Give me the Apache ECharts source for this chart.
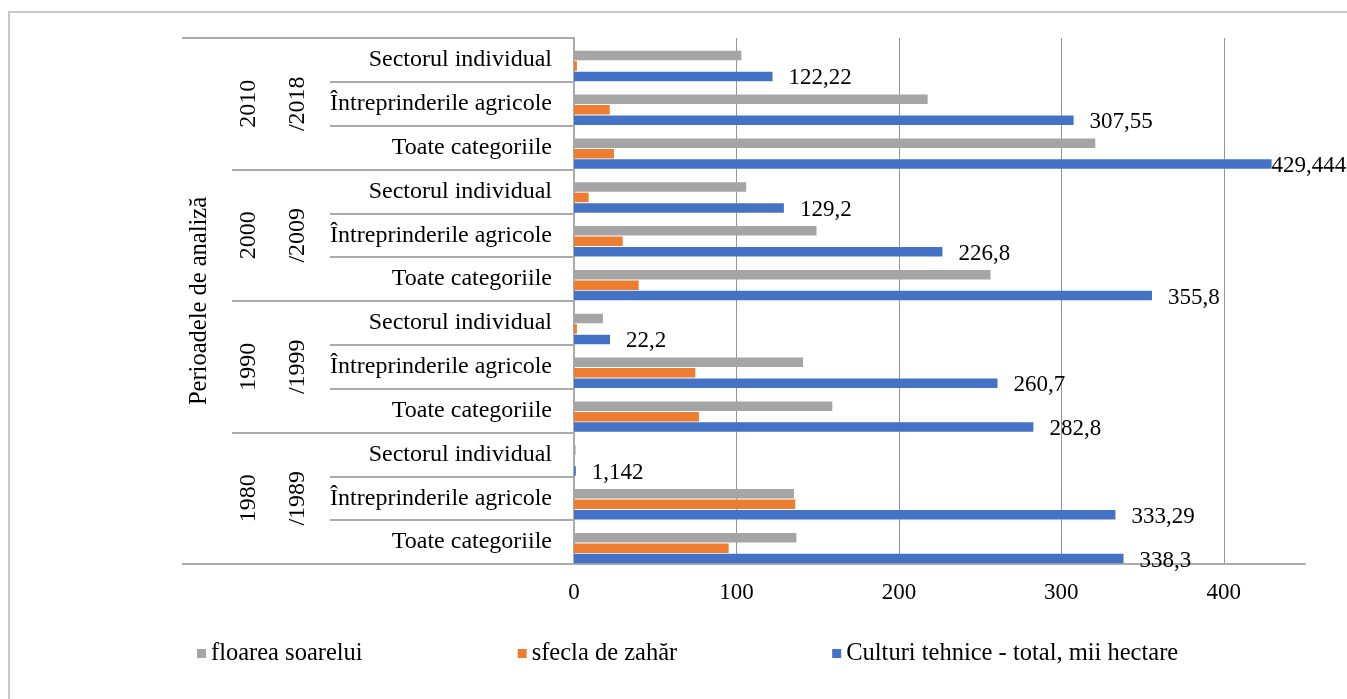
<!DOCTYPE html>
<html>
<head>
<meta charset="utf-8">
<script src="https://cdn.jsdelivr.net/npm/echarts@6/dist/echarts.min.js"></script>
<style>
  html, body { margin: 0; padding: 0; background: #fff; }
  #chart { width: 1347px; height: 699px; }
</style>
</head>
<body>
<div id="chart"></div>
<script>
// ---- data ----
const subCategories = ['Toate categoriile', 'Întreprinderile agricole', 'Sectorul individual'];
const periodStarts = ['1980', '1990', '2000', '2010'];
const periodEnds = ['/1989', '/1999', '/2009', '/2018'];
const seriesNames = ['floarea soarelui', 'sfecla de zahăr', 'Culturi tehnice - total, mii hectare'];
// values listed bottom to top: 1980/1989 (Toate, Întreprinderile, Sectorul), 1990/1999, 2000/2009, 2010/2018
const floareaSoarelui = [136.9, 135.4, 1.0, 159.0, 141.0, 17.8, 256.4, 149.3, 106.0, 320.9, 217.7, 103.0];
const sfeclaDeZahar = [95.2, 136.2, 0, 76.9, 74.7, 1.8, 39.8, 30.0, 9.0, 24.6, 22.0, 1.8];
const culturiTehnice = [338.3, 333.29, 1.142, 282.8, 260.7, 22.2, 355.8, 226.8, 129.2, 429.444, 307.55, 122.22];
const xTicks = { min: 0, max: 450, interval: 100 };
const axisTitle = 'Perioadele de analiză';

// ---- build ----
const categories = [];
periodStarts.forEach(() => subCategories.forEach(c => categories.push(c)));
const periods = periodStarts.map((s, i) => s + '\n' + periodEnds[i]);

const FONT = "'Liberation Serif', 'Times New Roman', serif";
const lineColor = '#ababab';

const chart = echarts.init(document.getElementById('chart'));

const blueData = culturiTehnice.map(v => {
  const item = { value: v };
  if (v > 420) item.label = { distance: 0 };
  return item;
});

chart.setOption({
  animation: false,
  textStyle: { fontFamily: FONT },
  color: ['#ffffff', '#a5a5a5', '#ed7d31', '#4472c4'],
  grid: { left: 574, right: 42, top: 38, bottom: 135 },
  legend: {
    data: seriesNames,
    left: 192, top: 636,
    itemWidth: 9, itemHeight: 9, itemGap: 155,
    icon: 'rect',
    textStyle: { fontFamily: FONT, fontSize: 24.5, color: '#000' }
  },
  xAxis: {
    type: 'value', min: xTicks.min, max: xTicks.max, interval: xTicks.interval,
    axisLine: { show: true, lineStyle: { color: lineColor, width: 2 } },
    axisTick: { show: false },
    axisLabel: { showMaxLabel: false, margin: 17, fontFamily: FONT, fontSize: 23, color: '#000' },
    splitLine: { show: true, showMinLine: false, showMaxLine: false, lineStyle: { color: '#959595', width: 1 } }
  },
  yAxis: [
    {
      type: 'category', data: categories, position: 'left',
      axisLine: { show: true, lineStyle: { color: lineColor, width: 2 } },
      axisTick: { show: true, interval: 0, length: 244, lineStyle: { color: lineColor, width: 2 } },
      axisLabel: { interval: 0, margin: 22, fontFamily: FONT, fontSize: 24, color: '#000' },
      splitLine: { show: false }
    },
    {
      type: 'category', data: periods, position: 'left',
      axisLine: { show: false },
      axisTick: { show: true, interval: 0, length: 342, lineStyle: { color: lineColor, width: 2 } },
      axisLabel: { interval: 0, rotate: 90, margin: 252, lineHeight: 49, fontFamily: FONT, fontSize: 24, color: '#000' },
      splitLine: { show: false }
    },
    {
      type: 'category', data: [''], position: 'left',
      name: axisTitle, nameLocation: 'middle', nameRotate: 90, nameGap: 362,
      nameTextStyle: { fontFamily: FONT, fontSize: 24.5, color: '#000' },
      axisLine: { show: false },
      axisTick: { show: true, interval: 0, length: 392, lineStyle: { color: lineColor, width: 2 } },
      axisLabel: { show: false },
      splitLine: { show: false }
    }
  ],
  series: [
    // empty spacer series: reproduces the downward offset of the bar clusters in the original
    { name: 'spacer', type: 'bar', yAxisIndex: 0, data: [], barWidth: 11, barGap: '10%', silent: true },
    { name: seriesNames[0], type: 'bar', yAxisIndex: 0, data: floareaSoarelui, barWidth: 9.5, barGap: '10%' },
    { name: seriesNames[1], type: 'bar', yAxisIndex: 0, data: sfeclaDeZahar, barWidth: 9.5, barGap: '10%' },
    {
      name: seriesNames[2], type: 'bar', yAxisIndex: 0, data: blueData, barWidth: 9.5, barGap: '10%',
      label: {
        show: true, position: 'right', distance: 16, offset: [0, 2],
        fontFamily: FONT, fontSize: 23, color: '#000',
        formatter: p => String(p.value).replace('.', ',')
      }
    }
  ],
  graphic: [{
    type: 'polyline', silent: true,
    shape: { points: [[9, 699], [9, 12], [1347, 12]] },
    style: { stroke: '#c8c8c8', lineWidth: 2, fill: null }
  }]
});
</script>
</body>
</html>
